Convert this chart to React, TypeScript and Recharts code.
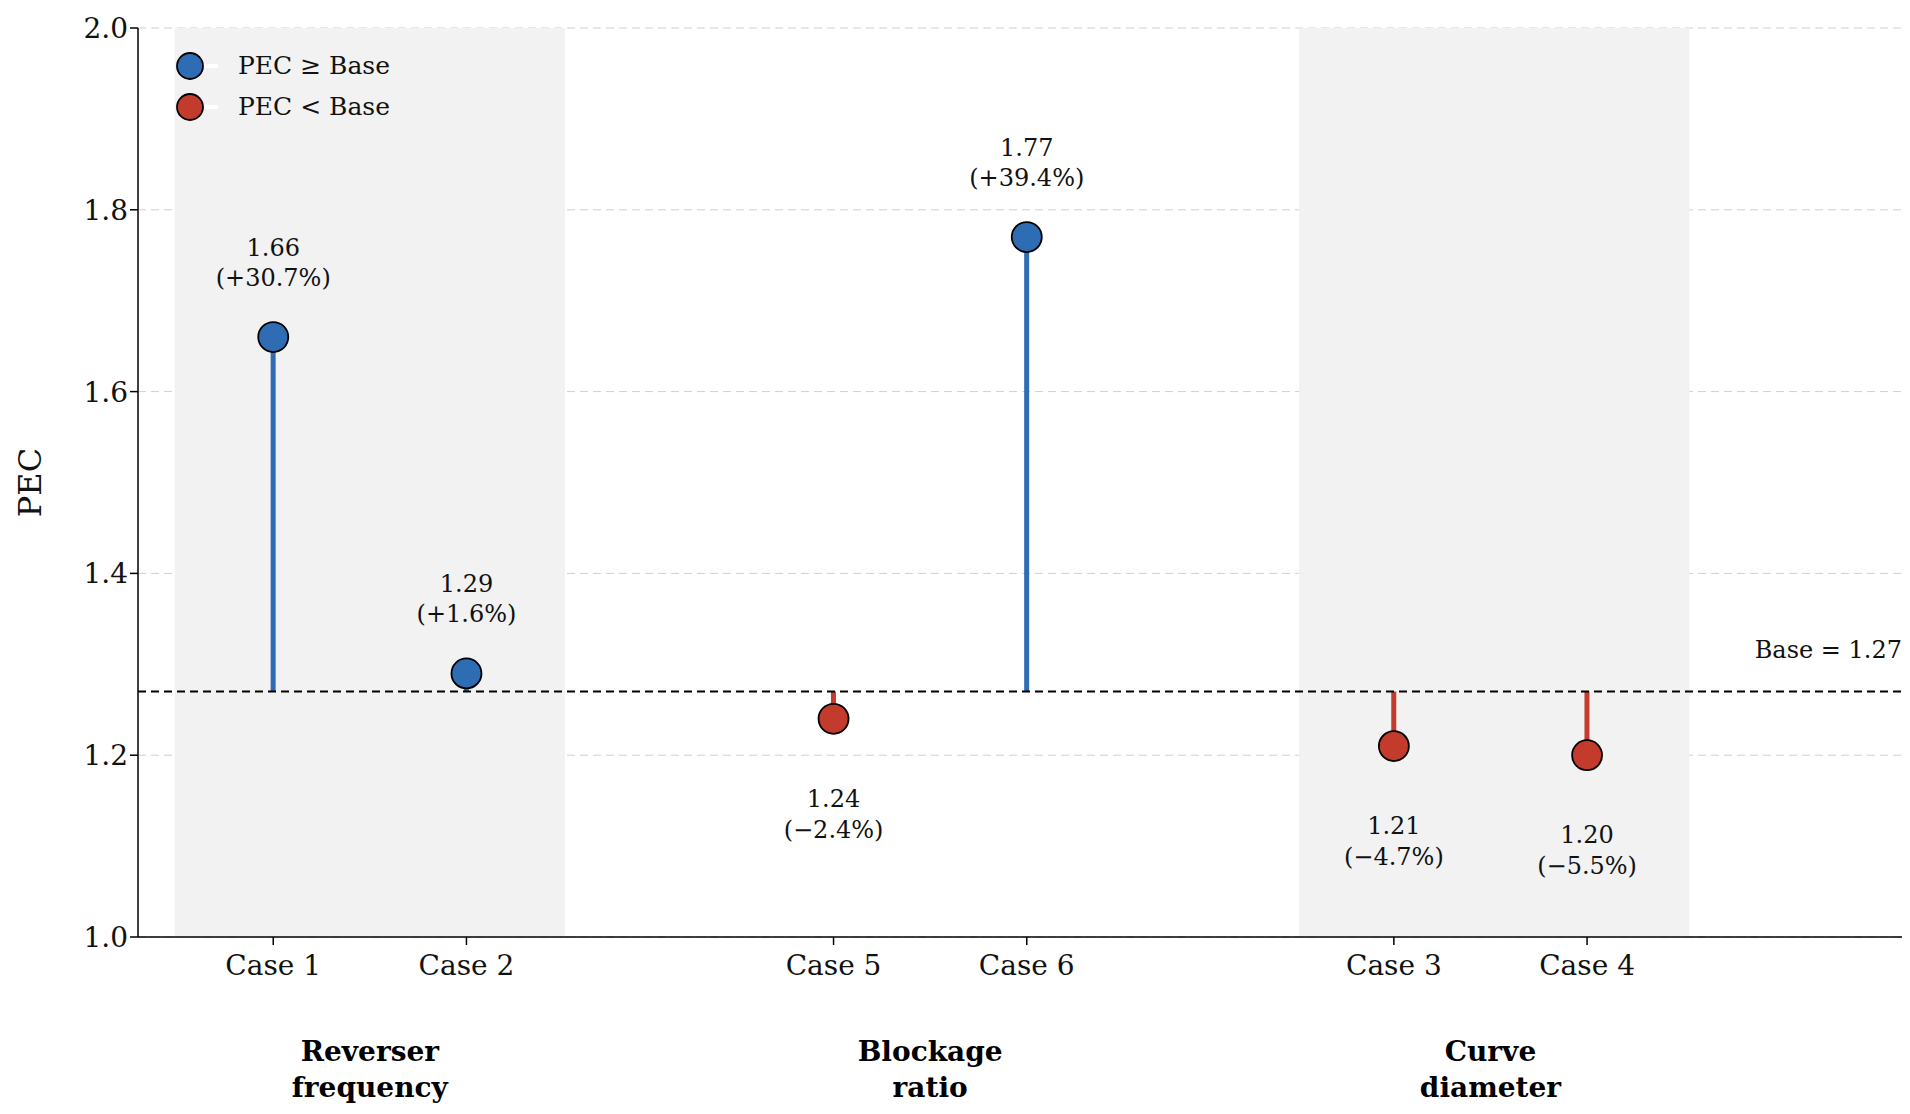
import React from "react";
import {
  ComposedChart,
  Bar,
  Scatter,
  Cell,
  XAxis,
  YAxis,
  CartesianGrid,
  ReferenceArea,
  ReferenceLine,
  ReferenceDot,
} from "recharts";

const BASE = 1.27;
const cases = ["Case 1", "Case 2", "Case 5", "Case 6", "Case 3", "Case 4"];
const positions = [0, 1, 2.9, 3.9, 5.8, 6.8];
const pecValues = [1.66, 1.29, 1.24, 1.77, 1.21, 1.2];
const changes = ["+30.7%", "+1.6%", "\u22122.4%", "+39.4%", "\u22124.7%", "\u22125.5%"];
const groups = [
  { x: 0.5, lines: ["Reverser", "frequency"], band: [-0.51, 1.51] },
  { x: 3.4, lines: ["Blockage", "ratio"], band: null },
  { x: 6.3, lines: ["Curve", "diameter"], band: [5.31, 7.33] },
];

const BLUE = "#2e6db4";
const RED = "#c23b2c";
const FONT = "DejaVu Serif";

const data = cases.map((name, i) => ({
  name,
  x: positions[i],
  y: pecValues[i],
  stem: [BASE, pecValues[i]],
  change: changes[i],
  up: pecValues[i] >= BASE,
}));

const PointShape = (props: any) => {
  const { cx, cy, payload } = props;
  const up = payload.up;
  const t1 = up ? cy - 89 : cy + 80;
  const t2 = up ? cy - 59 : cy + 111;
  return (
    <g>
      <circle cx={cx} cy={cy} r={15} fill={up ? BLUE : RED} stroke="#000" strokeWidth={1.8} />
      <text x={cx} y={t1} textAnchor="middle" dominantBaseline="central" fontFamily={FONT} fontSize={24} fill="#111">
        {payload.y.toFixed(2)}
      </text>
      <text x={cx} y={t2} textAnchor="middle" dominantBaseline="central" fontFamily={FONT} fontSize={24} fill="#111">
        ({payload.change})
      </text>
    </g>
  );
};

const GroupLabel = (lines: string[]) => (props: any) => {
  const { viewBox } = props;
  const cx = viewBox.x + viewBox.width / 2;
  const cy = viewBox.y + viewBox.height / 2;
  return (
    <g>
      {lines.map((l, i) => (
        <text key={l} x={cx} y={cy + 114 + i * 36} textAnchor="middle" dominantBaseline="central" fontFamily={FONT} fontSize={28} fontWeight="bold" fill="#000">
          {l}
        </text>
      ))}
    </g>
  );
};

const BaseLabel = (props: any) => {
  const { viewBox } = props;
  return (
    <text x={viewBox.x + viewBox.width} y={viewBox.y - 42} textAnchor="end" dominantBaseline="central" fontFamily={FONT} fontSize={24} fill="#111">
      Base = 1.27
    </text>
  );
};

export default function App() {
  if (typeof document !== "undefined") document.body.style.margin = "0";
  return (
    <div style={{ position: "relative", width: 1910, height: 1114, background: "#fff" }}>
      <ComposedChart width={1910} height={1114} data={data} margin={{ top: 28, right: 8, bottom: 147, left: 58 }}>
        {groups.map((g) =>
          g.band ? (
            <ReferenceArea key={g.x} x1={g.band[0]} x2={g.band[1]} y1={1} y2={2} fill="#f2f2f2" fillOpacity={1} stroke="none" />
          ) : null
        )}
        <CartesianGrid vertical={false} stroke="#d0d0d0" strokeDasharray="8 5" />
        <XAxis
          type="number"
          dataKey="x"
          domain={[-0.7, 8.43]}
          ticks={positions}
          tickFormatter={(v: number) => cases[positions.indexOf(v)] ?? ""}
          tick={{ fontFamily: FONT, fontSize: 28, fill: "#111" }}
          tickSize={8}
          tickMargin={10}
          stroke="#000"
          strokeWidth={1.5}
          allowDataOverflow
        />
        <YAxis
          type="number"
          domain={[1, 2]}
          ticks={[1, 1.2, 1.4, 1.6, 1.8, 2]}
          tickFormatter={(v: number) => v.toFixed(1)}
          tick={{ fontFamily: FONT, fontSize: 28, fill: "#111" }}
          width={80}
          tickSize={8}
          stroke="#000"
          strokeWidth={1.5}
          label={{ value: "PEC", angle: -90, position: "insideLeft", offset: -28, style: { fontFamily: FONT, fontSize: 32, fill: "#111", textAnchor: "middle" } }}
        />
        <Bar dataKey="stem" barSize={5} isAnimationActive={false}>
          {data.map((d) => (
            <Cell key={d.name} fill={d.up ? BLUE : RED} />
          ))}
        </Bar>
        <ReferenceLine y={BASE} stroke="#000" strokeWidth={2} strokeDasharray="8 5" label={<BaseLabel />} />
        <Scatter dataKey="y" shape={<PointShape />} isAnimationActive={false} />
        {groups.map((g) => (
          <ReferenceDot key={"g" + g.x} x={g.x} y={1} r={0} ifOverflow="visible" label={GroupLabel(g.lines)} />
        ))}
      </ComposedChart>
      <div style={{ position: "absolute", left: 172, top: 45, fontFamily: FONT, fontSize: 25, color: "#111" }}>
        {[
          { c: BLUE, t: "PEC \u2265 Base" },
          { c: RED, t: "PEC < Base" },
        ].map((e) => (
          <div key={e.t} style={{ display: "flex", alignItems: "center", height: 41 }}>
            <svg width={48} height={36}>
              <line x1={20} y1={18} x2={46} y2={18} stroke="#fff" strokeWidth={4} />
              <circle cx={18} cy={18} r={13} fill={e.c} stroke="#000" strokeWidth={1.8} />
            </svg>
            <span style={{ marginLeft: 18 }}>{e.t}</span>
          </div>
        ))}
      </div>
    </div>
  );
}
